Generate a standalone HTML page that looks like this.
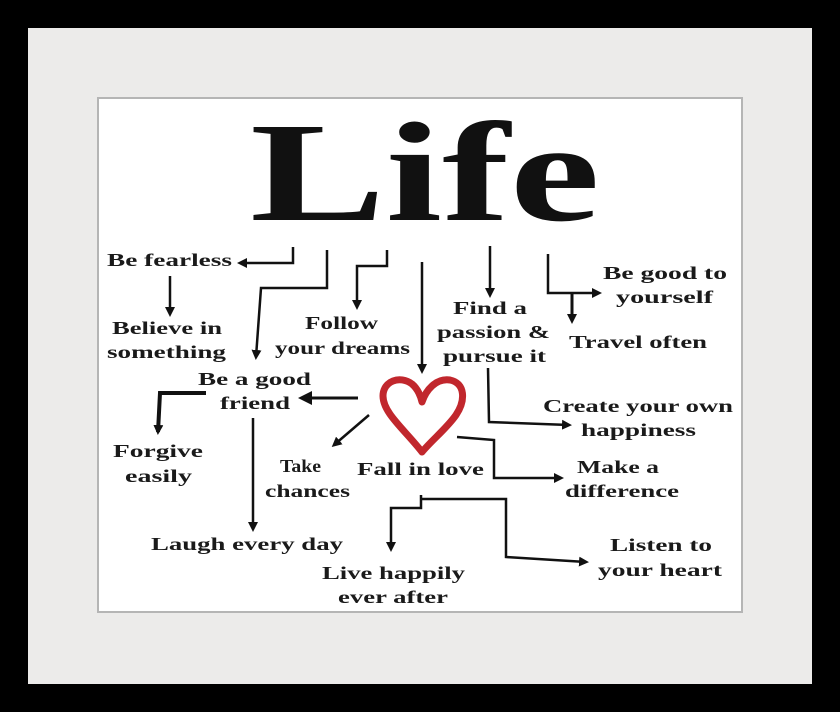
<!DOCTYPE html>
<html><head><meta charset="utf-8"><style>
html,body{margin:0;padding:0;background:#000;}
svg{display:block}
text{font-family:"Liberation Serif",serif;font-weight:bold;fill:#1a1a1a;}
</style></head><body>
<svg width="840" height="712" viewBox="0 0 840 712" xmlns="http://www.w3.org/2000/svg">
<defs><marker id="a" markerWidth="10" markerHeight="10" refX="7" refY="5" orient="auto" markerUnits="userSpaceOnUse" viewBox="0 0 10 10"><path d="M0,0 L10,5 L0,10 Z" fill="#111"/></marker>
<marker id="b" markerWidth="14" markerHeight="14" refX="9" refY="7" orient="auto" markerUnits="userSpaceOnUse" viewBox="0 0 14 14"><path d="M0,0 L14,7 L0,14 Z" fill="#111"/></marker></defs>
<rect x="0" y="0" width="840" height="712" fill="#000"/>
<rect x="28" y="28" width="784" height="656" fill="#ecebea"/>
<rect x="97" y="97" width="646" height="516" fill="#b5b5b5"/>
<rect x="99" y="99" width="642" height="512" fill="#fff"/>
<text x="250" y="220" font-size="142" textLength="350" lengthAdjust="spacingAndGlyphs" style="fill:#111">Life</text>
<g font-size="18" text-anchor="start">
<text x="107" y="266" textLength="125" lengthAdjust="spacingAndGlyphs">Be fearless</text>
<text x="112" y="334" textLength="110" lengthAdjust="spacingAndGlyphs">Believe in</text>
<text x="107" y="358" textLength="119" lengthAdjust="spacingAndGlyphs">something</text>
<text x="305" y="329" textLength="73" lengthAdjust="spacingAndGlyphs">Follow</text>
<text x="275" y="354" textLength="135" lengthAdjust="spacingAndGlyphs">your dreams</text>
<text x="198" y="385" textLength="113" lengthAdjust="spacingAndGlyphs">Be a good</text>
<text x="220" y="409" textLength="70" lengthAdjust="spacingAndGlyphs">friend</text>
<text x="113" y="457" textLength="90" lengthAdjust="spacingAndGlyphs">Forgive</text>
<text x="125" y="482" textLength="67" lengthAdjust="spacingAndGlyphs">easily</text>
<text x="280" y="472" textLength="41" lengthAdjust="spacingAndGlyphs">Take</text>
<text x="265" y="497" textLength="85" lengthAdjust="spacingAndGlyphs">chances</text>
<text x="357" y="475" textLength="127" lengthAdjust="spacingAndGlyphs">Fall in love</text>
<text x="151" y="550" textLength="192" lengthAdjust="spacingAndGlyphs">Laugh every day</text>
<text x="322" y="579" textLength="143" lengthAdjust="spacingAndGlyphs">Live happily</text>
<text x="338" y="603" textLength="110" lengthAdjust="spacingAndGlyphs">ever after</text>
<text x="453" y="314" textLength="74" lengthAdjust="spacingAndGlyphs">Find a</text>
<text x="437" y="338" textLength="113" lengthAdjust="spacingAndGlyphs">passion &amp;</text>
<text x="443" y="362" textLength="103" lengthAdjust="spacingAndGlyphs">pursue it</text>
<text x="603" y="279" textLength="124" lengthAdjust="spacingAndGlyphs">Be good to</text>
<text x="616" y="303" textLength="97" lengthAdjust="spacingAndGlyphs">yourself</text>
<text x="569" y="348" textLength="138" lengthAdjust="spacingAndGlyphs">Travel often</text>
<text x="543" y="412" textLength="190" lengthAdjust="spacingAndGlyphs">Create your own</text>
<text x="581" y="436" textLength="115" lengthAdjust="spacingAndGlyphs">happiness</text>
<text x="577" y="473" textLength="82" lengthAdjust="spacingAndGlyphs">Make a</text>
<text x="565" y="497" textLength="114" lengthAdjust="spacingAndGlyphs">difference</text>
<text x="610" y="551" textLength="102" lengthAdjust="spacingAndGlyphs">Listen to</text>
<text x="598" y="576" textLength="124" lengthAdjust="spacingAndGlyphs">your heart</text>
</g>
<g fill="none" stroke="#111" stroke-width="2.5">
<path d="M293,247 V263 H240" marker-end="url(#a)"/>
<path d="M170,276 V314" marker-end="url(#a)"/>
<path d="M327,250 V288 H261 L256,357" marker-end="url(#a)"/>
<path d="M387,250 V266 H357 V307" marker-end="url(#a)"/>
<path d="M422,262 V371" marker-end="url(#a)"/>
<path d="M358,398 H303" stroke-width="3" marker-end="url(#b)"/>
<path d="M206,393 H160 L158,432" stroke-width="4" marker-end="url(#a)"/>
<path d="M253,418 V529" marker-end="url(#a)"/>
<path d="M369,415 L334,445" marker-end="url(#a)"/>
<path d="M490,246 V295" marker-end="url(#a)"/>
<path d="M548,254 V293 H599" marker-end="url(#a)"/>
<path d="M572,293 V321" stroke-width="3" marker-end="url(#a)"/>
<path d="M488,368 L489,422 L569,425" marker-end="url(#a)"/>
<path d="M457,437 L494,440 V478 H561" marker-end="url(#a)"/>
<path d="M421,495 V508 H391 V549" marker-end="url(#a)"/>
<path d="M421,499 H506 V557 L586,562" marker-end="url(#a)"/>
</g>
<path d="M422,452 C405,430 383,413 383,396 C383,381 400,375 412,384 C418,389 421,397 422,402 C426,390 436,378 450,380 C465,383 466,400 456,415 C447,428 432,440 422,452 Z" fill="none" stroke="#c1272d" stroke-width="7" stroke-linejoin="round"/>
</svg>
</body></html>
